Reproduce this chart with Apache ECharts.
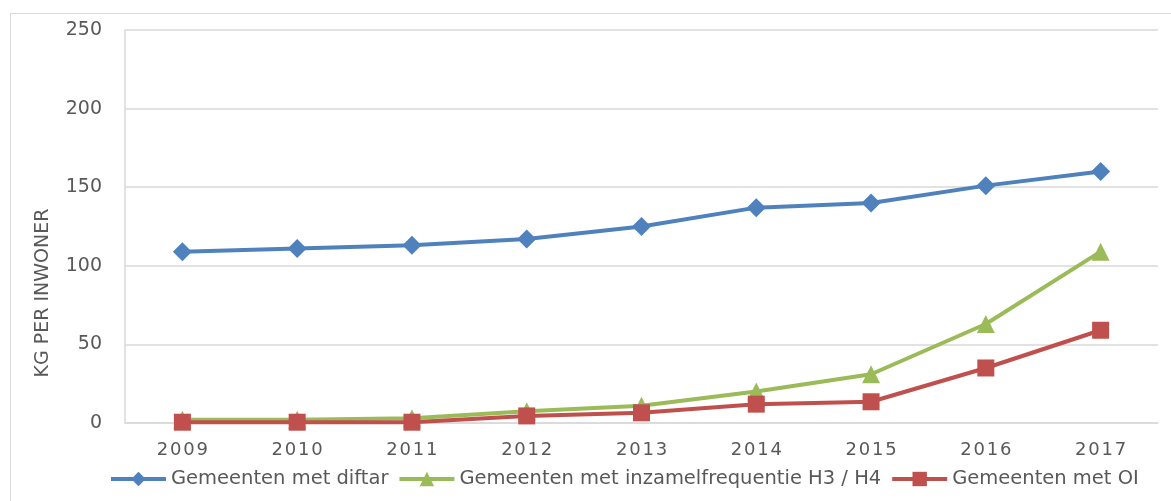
<!DOCTYPE html>
<html>
<head>
<meta charset="utf-8">
<script src="https://cdn.jsdelivr.net/npm/echarts@6/dist/echarts.min.js"></script>
<style>html,body{margin:0;padding:0;background:#fff;}#c{width:1171px;height:501px;}</style>
</head>
<body>
<div id="c"></div>
<script>
const categories = ['2009','2010','2011','2012','2013','2014','2015','2016','2017'];
const diftar = [109, 111, 113, 117, 125, 137, 140, 151, 160];
const frequentie = [2, 2, 3, 7.5, 11, 20, 31, 63, 109];
const oi = [0.5, 0.5, 0.5, 4.5, 6.5, 12, 13.5, 35, 59];
const seriesNames = ['Gemeenten met diftar', 'Gemeenten met inzamelfrequentie H3 / H4', 'Gemeenten met OI'];
const yTicks = [0, 50, 100, 150, 200, 250];
const yTitle = 'KG PER INWONER';

const font = 'DejaVu Sans';
const txt = '#595959';
const grid = '#D9D9D9';
const chart = echarts.init(document.getElementById('c'), null, {renderer: 'canvas'});
function mk(name, data, color, symbol, size) {
  return {
    name, type: 'line', data, symbol, symbolSize: size,
    lineStyle: {color, width: 4}, itemStyle: {color},
    emphasis: {disabled: true}, animation: false
  };
}
chart.setOption({
  animation: false,
  graphic: [
    {type: 'line', shape: {x1: 10, y1: 13.5, x2: 1171, y2: 13.5}, style: {stroke: grid, lineWidth: 1}},
    {type: 'line', shape: {x1: 10.5, y1: 13, x2: 10.5, y2: 501}, style: {stroke: grid, lineWidth: 1}},
    {type: 'text', x: 43, y: 293, rotation: Math.PI / 2,
     style: {text: yTitle, fill: txt, font: '19px "DejaVu Sans"', align: 'center', verticalAlign: 'middle'}}
  ],
  grid: {left: 125, right: 13, top: 30, bottom: 78},
  legend: {
    left: 104, top: 464, itemWidth: 55, itemHeight: 18, itemGap: 9,
    lineStyle: {width: 4},
    textStyle: {color: txt, fontFamily: font, fontSize: 19.5},
    data: seriesNames
  },
  xAxis: {
    type: 'category', data: categories, boundaryGap: true,
    axisLine: {show: true, lineStyle: {color: grid, width: 1.5}},
    axisTick: {show: false},
    axisLabel: {color: txt, fontFamily: font, fontSize: 18, margin: 18,
      formatter: v => v.split('').join('\u200A')}
  },
  yAxis: {
    type: 'value', min: yTicks[0], max: yTicks[yTicks.length - 1], interval: 50,
    axisLine: {show: true, lineStyle: {color: grid, width: 1.5}},
    axisTick: {show: false},
    splitLine: {lineStyle: {color: grid, width: 1.5}},
    axisLabel: {color: txt, fontFamily: font, fontSize: 19, margin: 23}
  },
  series: [
    mk(seriesNames[0], diftar, '#4F81BD', 'diamond', 19),
    mk(seriesNames[1], frequentie, '#9BBB59', 'triangle', 18),
    mk(seriesNames[2], oi, '#C0504D', 'rect', 17)
  ]
});
</script>
</body>
</html>
